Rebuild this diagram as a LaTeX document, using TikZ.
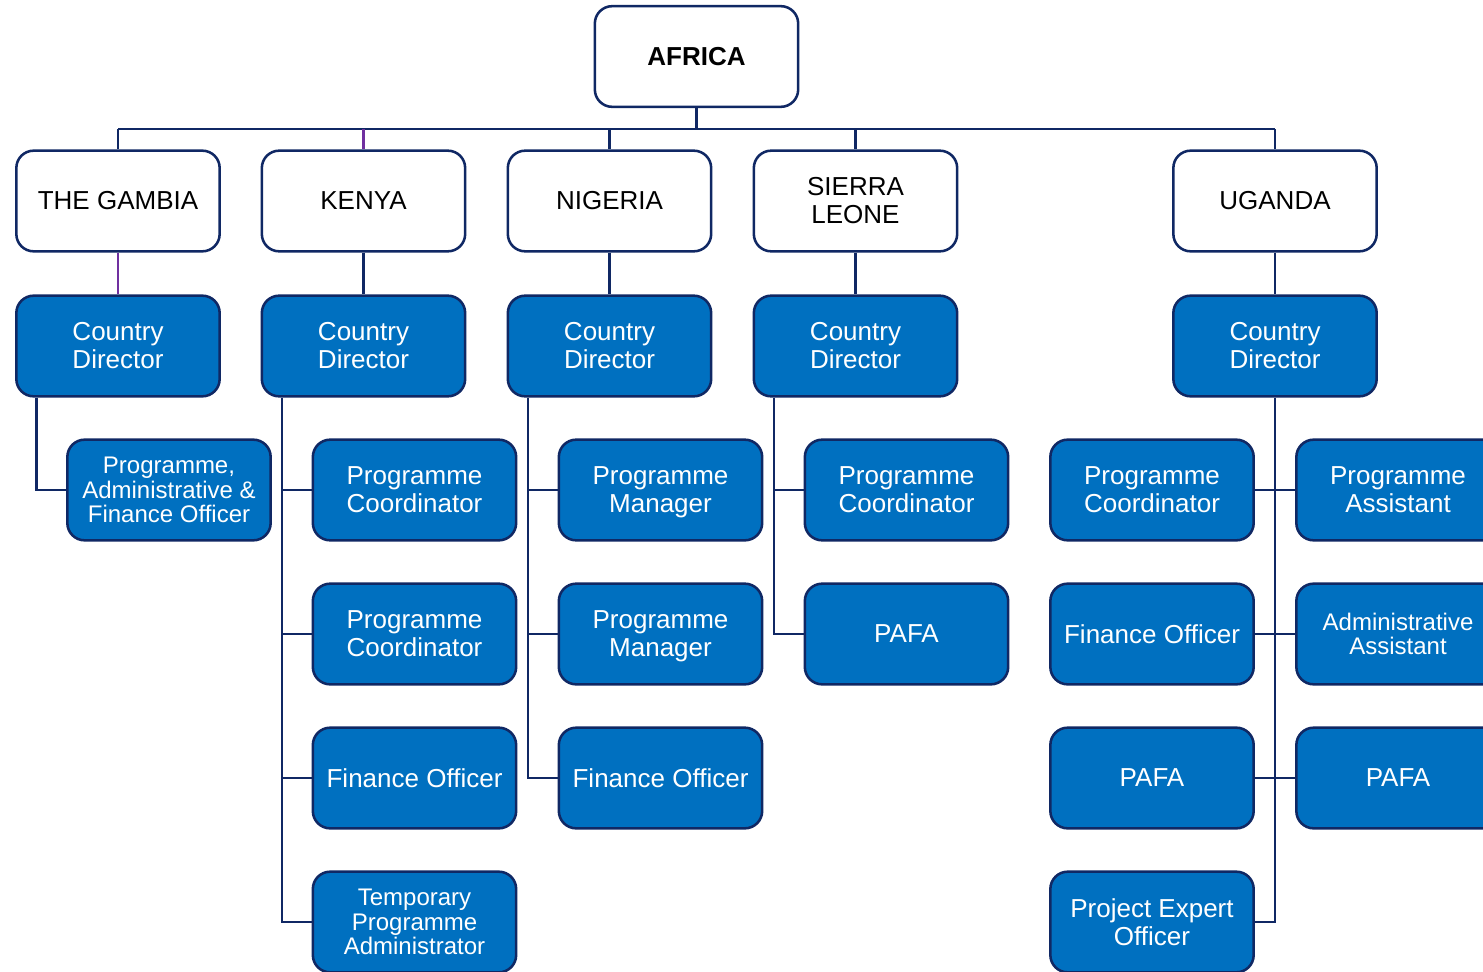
\documentclass[tikz,border=0pt]{standalone}
\usepackage{fontspec}
\setmainfont{Liberation Sans}
\usetikzlibrary{calc}
\definecolor{navy}{RGB}{16,40,100}
\definecolor{staffblue}{RGB}{0,112,192}
\definecolor{plum}{RGB}{112,48,160}
\newcommand{\bigtext}{\fontsize{19.5pt}{21pt}\selectfont}
\newcommand{\smalltext}{\fontsize{18pt}{18.4pt}\selectfont}
\tikzset{
  region/.style={rounded corners=13pt, draw=navy, line width=1.9pt, fill=white,
    minimum width=152.5pt, minimum height=75.5pt, inner sep=2pt, align=center, font=\bigtext},
  staff/.style={region, fill=staffblue, text=white},
  link/.style={draw=navy, line width=1.9pt},
}

\begin{document}
\begin{tikzpicture}[x=0.75pt,y=-0.75pt]
    \clip (0,0) rectangle (1483,971);
    \fill[white] (0,0) rectangle (1483,971);

    % top and countries
    \node[region] (africa) at (696.5,56.5) {\textbf{AFRICA}};
    \node[region] (gambia) at (118,201) {THE GAMBIA};
    \node[region] (kenya) at (363.5,201) {KENYA};
    \node[region] (nigeria) at (609.5,201) {NIGERIA};
    \node[region] (sierra) at (855.5,201) {SIERRA\\LEONE};
    \node[region] (uganda) at (1275,201) {UGANDA};

    \coordinate (bus) at (696.5,129);
    \draw[link] (africa.south) -- (bus);
    \draw[link] (gambia.north |- bus) -- (uganda.north |- bus);
    \foreach \c in {gambia,nigeria,sierra,uganda}
        \draw[link] (\c.north |- bus) -- (\c.north);
    \draw[link, draw=plum] (kenya.north |- bus) -- (kenya.north);

    % country directors
    \node[staff] (gdir) at (118,346) {Country\\Director};
    \node[staff] (kdir) at (363.5,346) {Country\\Director};
    \node[staff] (ndir) at (609.5,346) {Country\\Director};
    \node[staff] (sdir) at (855.5,346) {Country\\Director};
    \node[staff] (udir) at (1275,346) {Country\\Director};

    \draw[link, draw=plum] (gambia.south) -- (gdir.north);
    \foreach \c/\d in {kenya/kdir,nigeria/ndir,sierra/sdir,uganda/udir}
        \draw[link] (\c.south) -- (\d.north);

    % the gambia
    \node[staff, font=\smalltext] (gpafo) at (169,490) {Programme,\\Administrative \&\\Finance Officer};
    \draw[link] ([xshift=16pt]gdir.south west) |- (gpafo.west);

    % kenya
    \node[staff] (kpc1) at (414.5,490) {Programme\\Coordinator};
    \node[staff] (kpc2) at (414.5,634) {Programme\\Coordinator};
    \node[staff] (kfo) at (414.5,778) {Finance Officer};
    \node[staff, font=\smalltext] (ktpa) at (414.5,922) {Temporary\\Programme\\Administrator};
    \coordinate (kline) at ([xshift=16pt]kdir.south west);
    \draw[link] (kline) |- (ktpa.west);
    \foreach \n in {kpc1,kpc2,kfo}
        \draw[link] (\n.west) -- (\n.west -| kline);

    % nigeria
    \node[staff] (npm1) at (660.5,490) {Programme\\Mana\smash{g}er};
    \node[staff] (npm2) at (660.5,634) {Programme\\Mana\smash{g}er};
    \node[staff] (nfo) at (660.5,778) {Finance Officer};
    \coordinate (nline) at ([xshift=16pt]ndir.south west);
    \draw[link] (nline) |- (nfo.west);
    \foreach \n in {npm1,npm2}
        \draw[link] (\n.west) -- (\n.west -| nline);

    % sierra leone
    \node[staff] (spc) at (906.5,490) {Programme\\Coordinator};
    \node[staff] (spafa) at (906.5,634) {PAFA};
    \coordinate (sline) at ([xshift=16pt]sdir.south west);
    \draw[link] (sline) |- (spafa.west);
    \draw[link] (spc.west) -- (spc.west -| sline);

    % uganda
    \node[staff] (upc) at (1152,490) {Programme\\Coordinator};
    \node[staff] (ufo) at (1152,634) {Finance Officer};
    \node[staff] (upafa1) at (1152,778) {PAFA};
    \node[staff] (upeo) at (1152,922) {Project Expert\\Officer};
    \node[staff] (upa) at (1398,490) {Programme\\Assistant};
    \node[staff, font=\smalltext] (uaa) at (1398,634) {Administrative\\Assistant};
    \node[staff] (upafa2) at (1398,778) {PAFA};
    \draw[link] (udir.south) |- (upeo.east);
    \draw[link] (upc.east) -- (upa.west);
    \draw[link] (ufo.east) -- (uaa.west);
    \draw[link] (upafa1.east) -- (upafa2.west);
\end{tikzpicture}
\end{document}
